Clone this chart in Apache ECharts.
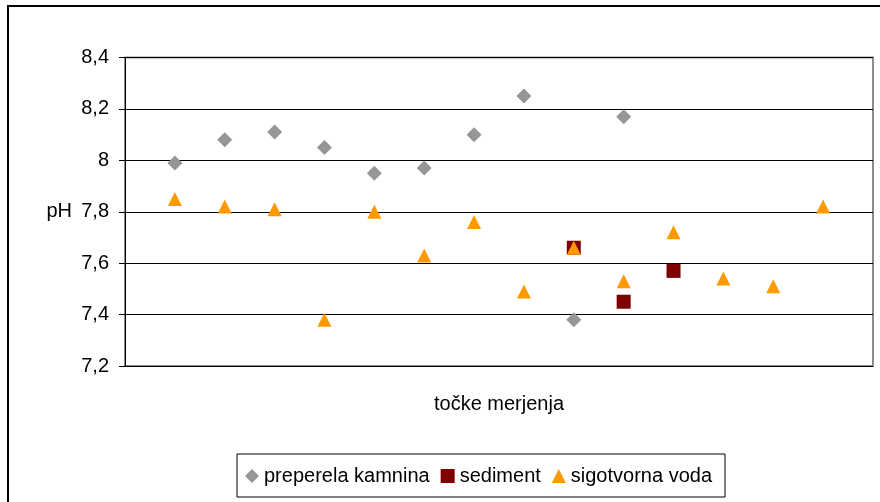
<!DOCTYPE html>
<html>
<head>
<meta charset="utf-8">
<script src="https://cdn.jsdelivr.net/npm/echarts@6/dist/echarts.min.js"></script>
<style>
html,body{margin:0;padding:0;background:#fff;}
#chart{width:880px;height:502px;}
</style>
</head>
<body>
<div id="chart"></div>
<script>
const measurePoints = [1, 2, 3, 4, 5, 6, 7, 8, 9, 10, 11, 12, 13, 14];
const preperelaKamnina = [7.99, 8.08, 8.11, 8.05, 7.95, 7.97, 8.10, 8.25, 7.38, 8.17, null, null, null, null];
const sediment = [null, null, null, null, null, null, null, null, 7.66, 7.45, 7.57, null, null, null];
const sigotvornaVoda = [7.85, 7.82, 7.81, 7.38, 7.80, 7.63, 7.76, 7.49, 7.66, 7.53, 7.72, 7.54, 7.51, 7.82];
const seriesNames = ['preperela kamnina', 'sediment', 'sigotvorna voda'];
const yTicks = { min: 7.2, max: 8.4, interval: 0.2 };

function pairs(vals) {
  const out = [];
  vals.forEach((v, i) => { if (v !== null) out.push([measurePoints[i], v]); });
  return out;
}

const FONT = '"Liberation Sans", Arial, sans-serif';
const chart = echarts.init(document.getElementById('chart'), null, { renderer: 'canvas' });
chart.setOption({
  animation: false,
  backgroundColor: '#fff',
  textStyle: { fontFamily: FONT, color: '#000' },
  graphic: [{
    type: 'rect',
    shape: { x: 8, y: 6, width: 1000, height: 1000 },
    style: { fill: 'none', stroke: '#000', lineWidth: 2 },
    silent: true
  }],
  grid: { left: 125, right: 7, top: 57.5, bottom: 136, show: true, borderColor: '#8c8c8c', borderWidth: 2, backgroundColor: 'transparent' },
  xAxis: {
    type: 'value', min: 0, max: measurePoints.length + 1,
    name: 'točke merjenja', nameLocation: 'middle', nameGap: 28,
    nameTextStyle: { fontSize: 20, color: '#000', fontFamily: FONT },
    axisLine: { show: false }, axisTick: { show: false }, axisLabel: { show: false }, splitLine: { show: false }
  },
  yAxis: {
    type: 'value', min: yTicks.min, max: yTicks.max, interval: yTicks.interval,
    name: 'pH', nameLocation: 'middle', nameRotate: 0, nameGap: 53,
    nameTextStyle: { fontSize: 20, color: '#000', fontFamily: FONT },
    axisLine: { show: true, lineStyle: { color: '#000', width: 1 } },
    axisTick: { show: true, inside: false, length: 6, lineStyle: { color: '#000' } },
    axisLabel: { fontSize: 20, color: '#000', margin: 16, fontFamily: FONT,
      formatter: v => String(+(+v).toFixed(1)).replace('.', ',') },
    splitLine: { show: true, lineStyle: { color: '#000', width: 1 } }
  },
  legend: {
    data: seriesNames,
    left: 237, top: 454,
    orient: 'horizontal',
    padding: [12, 13, 11, 8],
    itemGap: 11, itemWidth: 14, itemHeight: 14,
    borderColor: '#000', borderWidth: 1,
    textStyle: { fontSize: 20, color: '#000', fontFamily: FONT, padding: [0, 0, 0, 0] }
  },
  series: [
    { name: seriesNames[0], type: 'scatter', data: pairs(preperelaKamnina), symbol: 'diamond', symbolSize: 15,
      itemStyle: { color: '#969696', opacity: 1 } },
    { name: seriesNames[1], type: 'scatter', data: pairs(sediment), symbol: 'rect', symbolSize: 14,
      itemStyle: { color: '#800000', opacity: 1 } },
    { name: seriesNames[2], type: 'scatter', data: pairs(sigotvornaVoda), symbol: 'triangle', symbolSize: 14,
      itemStyle: { color: '#FF9900', opacity: 1 } }
  ]
});
</script>
</body>
</html>
